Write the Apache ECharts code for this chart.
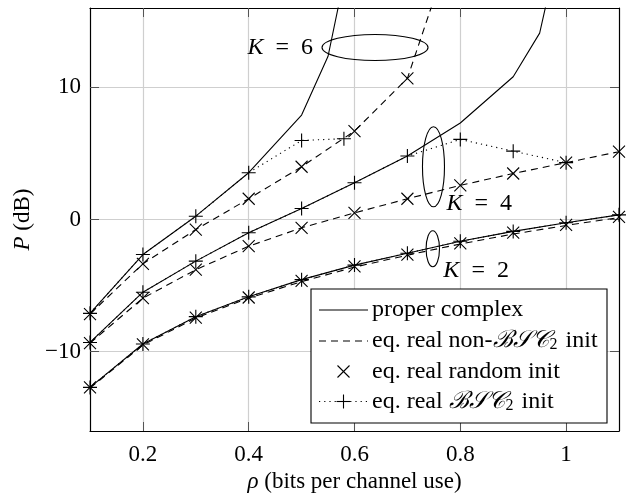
<!DOCTYPE html>
<html><head><meta charset="utf-8">
<script src="https://cdn.jsdelivr.net/npm/echarts@6/dist/echarts.min.js"></script>
<style>html,body{margin:0;padding:0;background:#fff}#c{width:630px;height:502px}</style>
</head><body><div id="c"></div>
<script>
// ---- data ----
const rho = [0.1,0.2,0.3,0.4,0.5,0.6,0.7,0.8,0.9,1.0,1.1];
const xTicks = [0.2,0.4,0.6,0.8,1.0];
const yTicks = [-10,0,10];

// K = 2
const k2Complex = [-12.7,-9.42,-7.35,-5.85,-4.55,-3.45,-2.55,-1.65,-0.9,-0.25,0.35];
const k2NonBSC  = [-12.75,-9.5,-7.45,-5.95,-4.7,-3.6,-2.7,-1.85,-1.1,-0.45,0.15];
const k2Random  = [-12.7,-9.45,-7.42,-5.9,-4.65,-3.55,-2.65,-1.8,-1.0,-0.4,0.2];
const k2BSC     = [-12.7,-9.42,-7.35,-5.85,-4.55,-3.45,-2.55,-1.65,-0.9,-0.25,0.35];

// K = 4
const k4ComplexRho = [0.1,0.2,0.3,0.4,0.5,0.6,0.7,0.8,0.9,0.95,1.0];
const k4Complex    = [-9.3,-5.5,-3.15,-1.0,0.83,2.78,4.8,7.3,10.8,14.1,23];
const k4NonBSC     = [-9.35,-5.95,-3.8,-2.02,-0.63,0.5,1.57,2.58,3.48,4.3,5.13];
const k4Random     = [-9.35,-5.95,-3.8,-2.02,-0.63,0.5,1.57,2.58,3.48,4.3,5.13];
const k4BSCRho     = [0.1,0.2,0.3,0.4,0.5,0.6,0.7,0.8,0.9,1.0];
const k4BSC        = [-9.3,-5.5,-3.15,-1.0,0.83,2.78,4.8,6.06,5.17,4.3];

// K = 6
const k6ComplexRho = [0.1,0.2,0.3,0.4,0.5,0.55,0.6];
const k6Complex    = [-7.1,-2.65,0.25,3.54,7.9,12.35,22];
const k6NonBSCRho  = [0.1,0.2,0.3,0.4,0.5,0.6,0.7,0.8];
const k6NonBSC     = [-7.15,-3.35,-0.76,1.57,3.99,6.69,10.68,22.6];
const k6RandomRho  = [0.1,0.2,0.3,0.4,0.5,0.6,0.7];
const k6Random     = [-7.15,-3.35,-0.76,1.57,3.99,6.69,10.68];
const k6BSCRho     = [0.1,0.2,0.3,0.4,0.5,0.58];
const k6BSC        = [-7.1,-2.65,0.25,3.54,5.98,6.11];

const legendTexts = ['proper complex', 'eq. real non-{s|ℬ𝒮𝒞}{sub|2} init', 'eq. real random init', 'eq. real {s|ℬ𝒮𝒞}{sub|2} init'];

// ---- chart ----
const FONT = '"Liberation Serif","Times New Roman",serif';
const pairs = (xs, ys) => xs.map((x,i)=>[x, ys[i]]);
const crossPath = 'path://M0,0L10,10M10,0L0,10';
const plusPath = 'path://M5,0L5,10M0,5L10,5';

function solid(data){ return {type:'line', data, symbol:'none', lineStyle:{color:'#000', width:1.1}, silent:true, z:3}; }
function dashed(data){ return {type:'line', data, symbol:'none', lineStyle:{color:'#000', width:1.1, type:[7,5]}, silent:true, z:3}; }
function crosses(data){ return {type:'line', data, symbol:crossPath, symbolSize:12, showAllSymbol:true,
  lineStyle:{opacity:0}, itemStyle:{color:'#000', borderColor:'#000', borderWidth:1.1}, silent:true, z:4}; }
function dotted(data){ return {type:'line', data, symbol:plusPath, symbolSize:14, showAllSymbol:true,
  lineStyle:{color:'#000', width:1.1, type:[1.2,4]}, itemStyle:{color:'#000', borderColor:'#000', borderWidth:1.1}, silent:true, z:5}; }

const series = [
  solid(pairs(rho,k2Complex)), dashed(pairs(rho,k2NonBSC)), crosses(pairs(rho,k2Random)), dotted(pairs(rho,k2BSC)),
  solid(pairs(k4ComplexRho,k4Complex)), dashed(pairs(rho,k4NonBSC)), crosses(pairs(rho,k4Random)), dotted(pairs(k4BSCRho,k4BSC)),
  solid(pairs(k6ComplexRho,k6Complex)), dashed(pairs(k6NonBSCRho,k6NonBSC)), crosses(pairs(k6RandomRho,k6Random)), dotted(pairs(k6BSCRho,k6BSC))
];

const axisCommon = {
  type:'value', axisLine:{show:true, onZero:false, lineStyle:{color:'#000', width:1.2}},
  axisTick:{show:true, inside:true, length:9, lineStyle:{color:'#555', width:1}},
};

const chart = echarts.init(document.getElementById('c'), null, {renderer:'canvas'});
chart.setOption({
  animation:false,
  backgroundColor:'#fff',
  grid:{left:90, top:8, width:529, height:423, show:false},
  xAxis:[
    Object.assign({}, axisCommon, {position:'bottom', min:0.1, max:1.1,
      axisTick:Object.assign({}, axisCommon.axisTick, {customValues:xTicks}),
      axisLabel:{customValues:xTicks, margin:12, fontFamily:FONT, fontSize:23, color:'#000',
        formatter:v=> Math.abs(v-1)<1e-9 ? '1' : v.toFixed(1)},
      splitLine:{show:true, lineStyle:{color:'#cfcfcf', width:1.2}},
      name:'{i|ρ} (bits per channel use)', nameLocation:'middle', nameGap:33,
      nameTextStyle:{fontFamily:FONT, fontSize:23, color:'#000', rich:{i:{fontFamily:FONT, fontStyle:'italic', fontSize:23, color:'#000'}}}
    }),
    Object.assign({}, axisCommon, {position:'top', min:0.1, max:1.1,
      axisTick:Object.assign({}, axisCommon.axisTick, {customValues:xTicks}),
      axisLabel:{show:false}, splitLine:{show:false}})
  ],
  yAxis:[
    Object.assign({}, axisCommon, {position:'left', min:-16, max:16,
      axisTick:Object.assign({}, axisCommon.axisTick, {customValues:yTicks}),
      axisLabel:{customValues:yTicks, margin:9, fontFamily:FONT, fontSize:23, color:'#000',
        formatter:v=> v<0 ? '\u2212'+Math.abs(v) : String(v)},
      splitLine:{show:true, lineStyle:{color:'#cfcfcf', width:1.2}},
      name:'{i|P} (dB)', nameLocation:'middle', nameGap:43, nameRotate:90,
      nameTextStyle:{fontFamily:FONT, fontSize:23, color:'#000', rich:{i:{fontFamily:FONT, fontStyle:'italic', fontSize:23, color:'#000'}}}
    }),
    Object.assign({}, axisCommon, {position:'right', min:-16, max:16,
      axisTick:Object.assign({}, axisCommon.axisTick, {customValues:yTicks}),
      axisLabel:{show:false}, splitLine:{show:false}})
  ],
  series
});

// ---- annotations (anchored in data coordinates) ----
const px = p => chart.convertToPixel({gridIndex:0}, p);
const italic = {fontFamily:FONT, fontStyle:'italic', fontSize:24, fill:'#000'};
const scriptS = {fontFamily:FONT, fontStyle:'italic', fontSize:24, fill:'#000'};
const subS = {fontFamily:FONT, fontSize:16, fill:'#000', verticalAlign:'bottom', padding:[0,2,0,1]};
const g = [];
function ellipse(c, rx, ry){ const p = px(c); g.push({type:'ellipse', shape:{cx:p[0], cy:p[1], rx, ry}, style:{fill:null, stroke:'#000', lineWidth:1.1}, z:50, silent:true}); }
function klabel(c, txt, align){ const p = px(c); g.push({type:'text', x:p[0], y:p[1], style:{text:'{i|K}\u2002=\u2002'+txt, rich:{i:italic}, font:'24px '+FONT, fill:'#000', align, verticalAlign:'middle'}, z:50, silent:true}); }
ellipse([0.6388,13.01], 53, 13);
klabel([0.5216,13.0], '6', 'right');
ellipse([0.7493,3.99], 11, 40);
klabel([0.774,1.2], '4', 'left');
ellipse([0.748,-2.21], 6.7, 18);
klabel([0.768,-3.9], '2', 'left');

// ---- legend box ----
const LX = 311, LY = 289, LW = 296, LH = 134;
g.push({type:'rect', shape:{x:LX, y:LY, width:LW, height:LH}, style:{fill:'#fff', stroke:'#000', lineWidth:1.1}, z:60, silent:true});
const rows = [310, 341, 371.5, 401.5];
const sx0 = 319, sx1 = 368, sxm = 343.5, tx = 372;
function hline(y, dash){ g.push({type:'line', shape:{x1:sx0, y1:y, x2:sx1, y2:y}, style:{stroke:'#000', lineWidth:1.1, lineDash:dash||null}, z:61, silent:true}); }
function cross(x,y,s){ g.push({type:'polyline', shape:{points:[[x-s,y-s],[x+s,y+s]]}, style:{stroke:'#000', lineWidth:1.1}, z:62, silent:true});
  g.push({type:'polyline', shape:{points:[[x+s,y-s],[x-s,y+s]]}, style:{stroke:'#000', lineWidth:1.1}, z:62, silent:true}); }
function plus(x,y,s){ g.push({type:'polyline', shape:{points:[[x,y-s],[x,y+s]]}, style:{stroke:'#000', lineWidth:1.1}, z:62, silent:true});
  g.push({type:'polyline', shape:{points:[[x-s,y],[x+s,y]]}, style:{stroke:'#000', lineWidth:1.1}, z:62, silent:true}); }
hline(rows[0]);
hline(rows[1], [7,5]);
cross(sxm, rows[2], 6);
hline(rows[3], [1.2,4]);
plus(sxm, rows[3], 7);
legendTexts.forEach((t,i)=>{
  g.push({type:'text', x:tx, y:rows[i], style:{text:t, rich:{s:scriptS, sub:subS}, font:'24px '+FONT, fill:'#000', align:'left', verticalAlign:'middle'}, z:63, silent:true});
});
chart.setOption({graphic:g});
</script>
</body></html>
